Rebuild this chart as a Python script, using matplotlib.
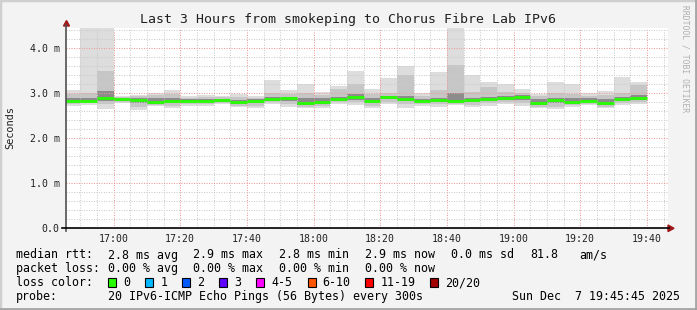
"""
Smokeping style latency graph, last 3 hours
"""
import numpy as np
import matplotlib.pyplot as plt
import matplotlib as mpl

# time axis: minutes since 16:00, one bar per 5 min step (start of step)
bar_start = [45, 50, 55, 60, 65, 70, 75, 80, 85, 90, 95, 100, 105, 110, 115,
             120, 125, 130, 135, 140, 145, 150, 155, 160, 165, 170, 175, 180,
             185, 190, 195, 200, 205, 210, 215]

# rtt values in ms
rtt_max = [3.07, 4.60, 4.60, 2.93, 2.96, 2.99, 3.07, 2.93, 2.96, 2.94, 2.97, 2.93,
           3.28, 3.06, 3.21, 3.03, 3.15, 3.48, 3.10, 3.33, 3.60, 2.99, 3.47, 4.60,
           3.40, 3.24, 3.21, 3.10, 2.97, 3.25, 3.19, 3.01, 3.04, 3.36, 3.25]
rtt_upper = [2.98, 2.99, 3.48, 2.91, 2.93, 2.95, 2.97, 2.90, 2.92, 2.91, 2.92, 2.90,
             2.99, 2.98, 3.00, 2.96, 3.08, 3.21, 2.98, 3.00, 3.40, 2.93, 3.06, 3.62,
             3.02, 3.13, 3.02, 3.00, 2.93, 3.00, 2.98, 2.94, 2.96, 3.00, 3.17]
rtt_core_hi = [2.90, 2.88, 3.05, 2.89, 2.88, 2.88, 2.88, 2.86, 2.86, 2.87, 2.85, 2.86,
               2.92, 2.92, 2.90, 2.88, 2.92, 2.98, 2.89, 2.94, 2.94, 2.87, 2.90, 3.00,
               2.90, 2.91, 2.93, 2.95, 2.86, 2.90, 2.88, 2.88, 2.86, 2.92, 2.96]
rtt_median = [2.83, 2.83, 2.88, 2.87, 2.84, 2.79, 2.82, 2.82, 2.82, 2.84, 2.81, 2.82,
              2.86, 2.88, 2.78, 2.81, 2.87, 2.91, 2.83, 2.91, 2.87, 2.82, 2.85, 2.82,
              2.84, 2.87, 2.89, 2.92, 2.77, 2.85, 2.79, 2.83, 2.78, 2.87, 2.89]
rtt_core_lo = [2.78, 2.79, 2.82, 2.82, 2.78, 2.76, 2.78, 2.79, 2.79, 2.80, 2.76, 2.77,
               2.82, 2.82, 2.74, 2.76, 2.82, 2.85, 2.78, 2.86, 2.82, 2.79, 2.80, 2.79,
               2.79, 2.82, 2.84, 2.84, 2.74, 2.78, 2.76, 2.79, 2.74, 2.82, 2.84]
rtt_lower = [2.75, 2.77, 2.75, 2.80, 2.70, 2.74, 2.72, 2.76, 2.76, 2.78, 2.72, 2.72,
             2.79, 2.76, 2.70, 2.72, 2.79, 2.80, 2.72, 2.80, 2.75, 2.76, 2.75, 2.76,
             2.74, 2.77, 2.80, 2.78, 2.70, 2.70, 2.73, 2.76, 2.70, 2.78, 2.80]
rtt_min = [2.71, 2.74, 2.64, 2.77, 2.62, 2.71, 2.66, 2.72, 2.72, 2.76, 2.68, 2.66,
           2.76, 2.68, 2.66, 2.66, 2.76, 2.74, 2.67, 2.76, 2.66, 2.72, 2.68, 2.74,
           2.68, 2.72, 2.76, 2.72, 2.66, 2.64, 2.70, 2.73, 2.66, 2.74, 2.76]

x_major = [60, 80, 100, 120, 140, 160, 180, 200, 220]
x_labels = ['17:00', '17:20', '17:40', '18:00', '18:20', '18:40', '19:00', '19:20', '19:40']
y_major = [0, 1, 2, 3, 4]
y_labels = ['0.0', '1.0 m', '2.0 m', '3.0 m', '4.0 m']

loss_names = ['0', '1', '2', '3', '4-5', '6-10', '11-19', '20/20']
loss_colors = ['#26ff00', '#00b8ff', '#0059ff', '#5e00ff', '#ff00ff', '#ff5500', '#ff0000', '#a10000']

title = 'Last 3 Hours from smokeping to Chorus Fibre Lab IPv6'

W, H = 697, 310
MONO = 'DejaVu Sans Mono'


def px(x, y):
    """pixel position -> figure fraction"""
    return x / W, 1 - y / H


fig = plt.figure(figsize=(W / 100, H / 100), dpi=100, facecolor='#f3f3f3')

# 3d-ish frame
fig.patches.append(mpl.patches.Rectangle((0, 0), 1, 1, transform=fig.transFigure,
                                         fill=False, edgecolor='#cfcfcf', lw=2.5))
fig.lines.append(mpl.lines.Line2D([0, 1], [0.003, 0.003], transform=fig.transFigure, color='#a0a0a0', lw=1.2))
fig.lines.append(mpl.lines.Line2D([0.998, 0.998], [0, 1], transform=fig.transFigure, color='#a0a0a0', lw=1.2))

ax = fig.add_axes([66 / W, 1 - 228 / H, (668 - 66) / W, (228 - 28) / H])
ax.set_facecolor('white')
ax.set_xlim(45.75, 226.35)
ax.set_ylim(0, 200 / 45.0)

width = 5
lo = np.array(rtt_min)
ax.bar(bar_start, np.array(rtt_max) - lo, bottom=lo, width=width, align='edge',
       color='#dddddd', lw=0, zorder=1)
ax.bar(bar_start, np.array(rtt_upper) - np.array(rtt_lower), bottom=rtt_lower, width=width,
       align='edge', color='#c6c6c6', lw=0, zorder=1.1)
ax.bar(bar_start, np.array(rtt_core_hi) - np.array(rtt_core_lo), bottom=rtt_core_lo, width=width,
       align='edge', color='#8c8c8c', lw=0, zorder=1.2)

# median, coloured by loss (all 0 here)
x0 = np.array(bar_start)
ax.hlines(rtt_median, x0, x0 + width, color=loss_colors[0], lw=2.0, zorder=3.1)

# grid
ax.set_xticks(x_major)
ax.set_xticklabels(x_labels)
ax.set_xticks(np.arange(50, 226, 5), minor=True)
ax.set_yticks(y_major)
ax.set_yticklabels(y_labels)
ax.set_yticks(np.arange(0.2, 4.41, 0.2), minor=True)
ax.grid(which='minor', color='#cccccc', lw=0.75, linestyle=(0, (1.0, 1.4)), zorder=2)
ax.grid(which='major', color='#f29a9a', lw=0.75, linestyle=(0, (1.0, 1.4)), zorder=2.1)
ax.tick_params(which='both', length=0)
ax.tick_params(axis='x', pad=4.5, labelsize=7.1)
ax.tick_params(axis='y', pad=4.5, labelsize=7.1)
for lab in ax.get_xticklabels() + ax.get_yticklabels():
    lab.set_family(MONO)
    lab.set_color('#202020')
for s in ax.spines.values():
    s.set_visible(False)

# axis lines with arrows
fig.lines.append(mpl.lines.Line2D(*zip(px(66.3, 231), px(66.3, 25)), transform=fig.transFigure, color='#505050', lw=1.2))
fig.lines.append(mpl.lines.Line2D(*zip(px(62, 228.3), px(669, 228.3)), transform=fig.transFigure, color='black', lw=1.2))
fig.patches.append(mpl.patches.Polygon([px(63.5, 26), px(69.5, 26), px(66.5, 20.5)], closed=True,
                                       transform=fig.transFigure, color='#a01818'))
fig.patches.append(mpl.patches.Polygon([px(668, 225), px(668, 231.6), px(674, 228.3)], closed=True,
                                       transform=fig.transFigure, color='#a01818'))

fig.text(*px(347.5, 19), title, family=MONO, fontsize=9.5, ha='center', va='center', color='#202020')
fig.text(*px(10, 128), 'Seconds', family=MONO, fontsize=7.4, rotation=90, ha='center', va='center', color='#202020')
fig.text(*px(685, 5), 'RRDTOOL / TOBI OETIKER', family=MONO, fontsize=5.8, rotation=270,
         ha='center', va='top', color='#b0b0b0')

# legend rows
fs = 8.4
rows = [258.5, 272.3, 286.1, 299.8]
fig.text(*px(16, rows[0]), 'median rtt:', family=MONO, fontsize=fs, va='baseline')
for xx, t in zip([107.6, 193.3, 279, 365, 451, 530, 579],
                 ['2.8 ms avg', '2.9 ms max', '2.8 ms min', '2.9 ms now', '0.0 ms sd', '81.8', 'am/s']):
    fig.text(*px(xx, rows[0]), t, family=MONO, fontsize=fs, va='baseline')

fig.text(*px(16, rows[1]), 'packet loss:', family=MONO, fontsize=fs, va='baseline')
for xx, t in zip([107.6, 193.3, 279, 365], ['0.00 % avg', '0.00 % max', '0.00 % min', '0.00 % now']):
    fig.text(*px(xx, rows[1]), t, family=MONO, fontsize=fs, va='baseline')

fig.text(*px(16, rows[2]), 'loss color:', family=MONO, fontsize=fs, va='baseline')
box_x = [108, 145.3, 182.2, 219.1, 256.4, 307.6, 365.3, 430.2]
for bx, name, col in zip(box_x, loss_names, loss_colors):
    fig.patches.append(mpl.patches.Rectangle(px(bx, 286.5), 8 / W, 8.5 / H, transform=fig.transFigure,
                                             facecolor=col, edgecolor='black', lw=0.8))
    fig.text(*px(bx + 15, rows[2]), name, family=MONO, fontsize=fs, va='baseline')

fig.text(*px(16, rows[3]), 'probe:', family=MONO, fontsize=fs, va='baseline')
fig.text(*px(107.6, rows[3]), '20 IPv6-ICMP Echo Pings (56 Bytes) every 300s', family=MONO, fontsize=fs, va='baseline')
fig.text(*px(680, rows[3]), 'Sun Dec  7 19:45:45 2025', family=MONO, fontsize=fs, va='baseline', ha='right')

fig.savefig('out.png', dpi=100, facecolor=fig.get_facecolor())
